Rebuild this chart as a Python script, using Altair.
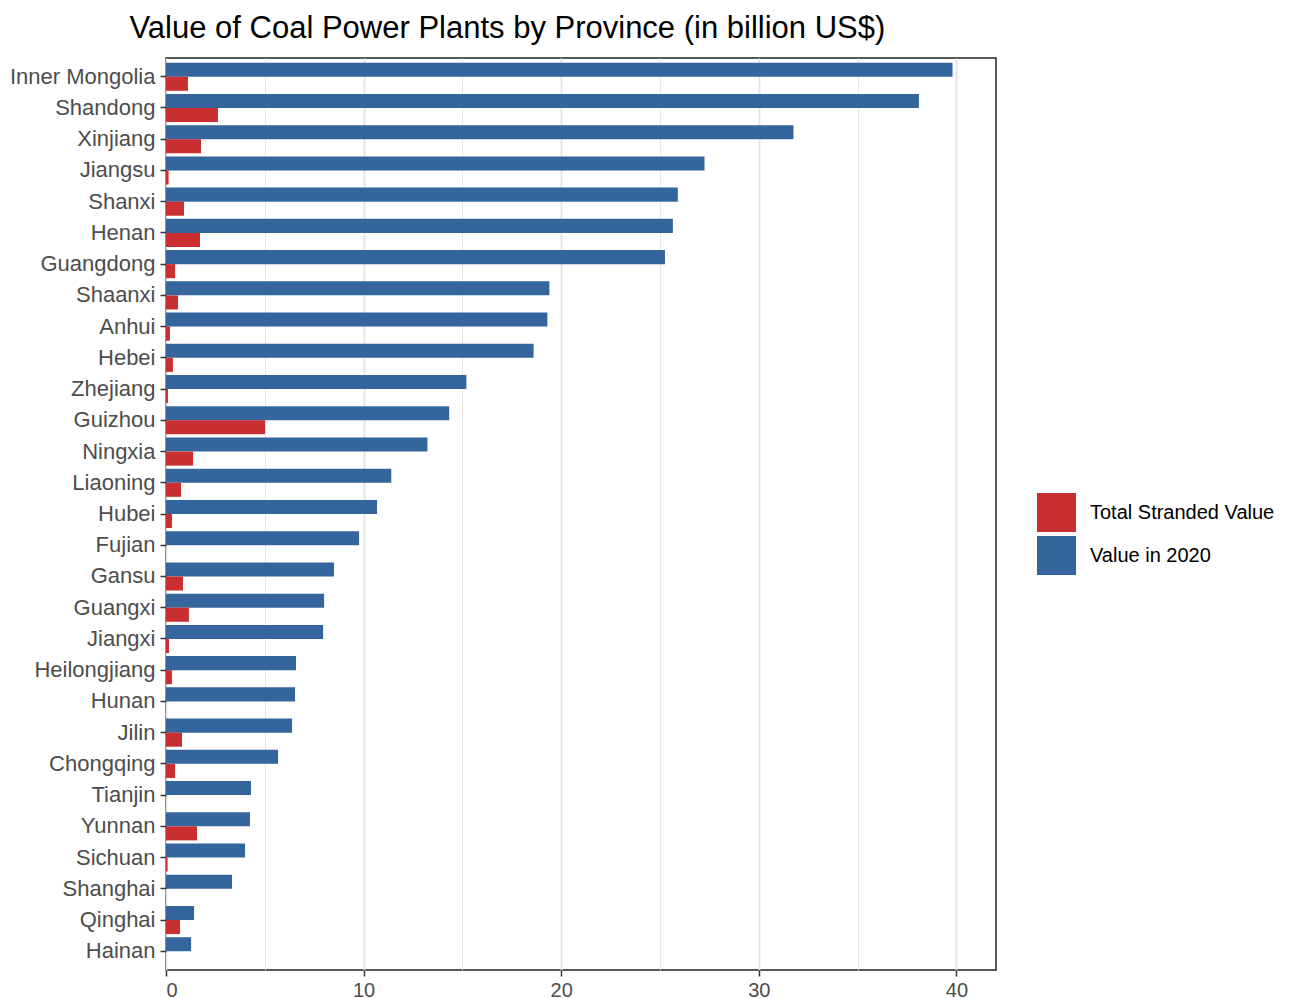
import altair as alt
import pandas as pd

provinces = ["Inner Mongolia", "Shandong", "Xinjiang", "Jiangsu", "Shanxi", "Henan",
             "Guangdong", "Shaanxi", "Anhui", "Hebei", "Zhejiang", "Guizhou", "Ningxia",
             "Liaoning", "Hubei", "Fujian", "Gansu", "Guangxi", "Jiangxi", "Heilongjiang",
             "Hunan", "Jilin", "Chongqing", "Tianjin", "Yunnan", "Sichuan", "Shanghai",
             "Qinghai", "Hainan"]
value_2020 = [39.8, 38.1, 31.75, 27.25, 25.9, 25.65, 25.25, 19.4, 19.3, 18.6, 15.2, 14.33,
              13.23, 11.4, 10.68, 9.77, 8.5, 8.0, 7.95, 6.58, 6.53, 6.38, 5.67, 4.3, 4.25,
              4.0, 3.34, 1.42, 1.27]
stranded = [1.11, 2.63, 1.77, 0.13, 0.91, 1.72, 0.46, 0.61, 0.2, 0.35, 0.1, 5.01, 1.37,
            0.76, 0.3, 0.0, 0.86, 1.16, 0.15, 0.3, 0.0, 0.81, 0.46, 0.0, 1.57, 0.08, 0.0,
            0.71, 0.0]
series_names = ["Total Stranded Value", "Value in 2020"]
series_colors = ["#c92f30", "#35659d"]
x_ticks = [0, 5, 10, 15, 20, 25, 30, 35, 40]

rows = []
for p, v, s in zip(provinces, value_2020, stranded):
    rows.append({"Province": p, "Series": "Value in 2020", "Value": v})
    rows.append({"Province": p, "Series": "Total Stranded Value", "Value": s})
df = pd.DataFrame(rows)

major = "datum.value % 10 === 0"

chart = alt.Chart(df).mark_bar().encode(
    y=alt.Y("Province:N", sort=provinces,
            scale=alt.Scale(paddingInner=0.1, paddingOuter=0.15),
            axis=alt.Axis(title=None, labelFontSize=22, labelColor="#4d4d4d",
                          tickColor="#333333", tickSize=6, tickWidth=1.5,
                          labelPadding=5, domain=False,
                          gridColor="#e4e4e4", gridWidth=1.8)),
    yOffset=alt.YOffset("Series:N", sort=["Value in 2020", "Total Stranded Value"],
                        scale=alt.Scale(paddingInner=0, paddingOuter=0)),
    x=alt.X("Value:Q", scale=alt.Scale(domain=[0, 42], nice=False, zero=True),
            axis=alt.Axis(title=None, values=x_ticks, labelFontSize=20,
                          labelColor="#4d4d4d",
                          labelExpr="datum.value % 10 === 0 ? datum.label : ''",
                          tickColor="#333333", tickSize=6, tickWidth=1.5,
                          tickOpacity={"condition": {"test": major, "value": 1}, "value": 0},
                          labelPadding=4, domain=False, gridColor="#e4e4e4",
                          gridWidth={"condition": {"test": major, "value": 1.8}, "value": 0.9})),
    color=alt.Color("Series:N",
                    scale=alt.Scale(domain=series_names, range=series_colors),
                    legend=alt.Legend(title=None, orient="none", legendX=871, legendY=435,
                                      symbolType="square", symbolSize=1521,
                                      symbolStrokeWidth=0, symbolOpacity=1,
                                      labelFontSize=20, labelColor="black", labelLimit=400,
                                      labelOffset=14, rowPadding=4)),
).properties(
    width=830,
    height=912,
    title=alt.TitleParams(text="Value of Coal Power Plants by Province (in billion US$)",
                          fontSize=31, fontWeight="normal", anchor="start", frame="bounds",
                          dx=120, offset=13, color="black", font="Liberation Sans"),
    padding={"left": 1, "top": 5, "right": 5, "bottom": 0},
).configure(
    font="Liberation Sans"
).configure_view(
    stroke="#222222", strokeWidth=1.5
)

chart.save("out.html", embed_options={"renderer": "svg", "actions": False})
